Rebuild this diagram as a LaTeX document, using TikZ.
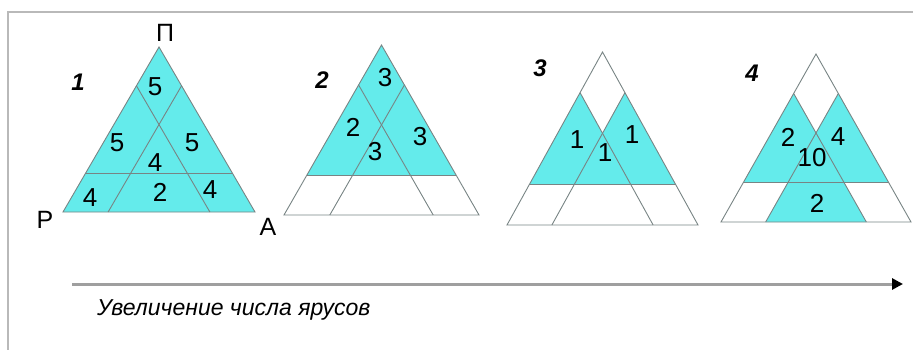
\documentclass[tikz,border=0pt]{standalone}
\usepackage{fontspec}
\setmainfont{Liberation Sans}
\usetikzlibrary{calc,arrows.meta}
\definecolor{goluboy}{RGB}{100,235,235}
\definecolor{seryy}{RGB}{120,132,132}
\tikzset{
  zalivka/.style={fill=goluboy},
  liniya/.style={draw=seryy, line width=0.9pt},
  chislo/.style={font=\fontsize{26}{26}\selectfont, inner sep=0pt},
  nomer/.style={font=\fontsize{24}{24}\selectfont\bfseries\itshape, inner sep=0pt},
  vershina/.style={font=\fontsize{25}{25}\selectfont, inner sep=0pt},
}
% vershiny i tochki deleniya (#1 shirina, #2 vysota)
\newcommand{\tochki}[2]{%
  \coordinate (L) at (0,0);
  \coordinate (R) at (#1,0);
  \coordinate (T) at (#1/2,-#2);
  \coordinate (Pl) at ($(L)!0.235!(T)$);
  \coordinate (Pr) at ($(R)!0.235!(T)$);
  \coordinate (B1) at ($(L)!0.235!(R)$);
  \coordinate (B2) at ($(R)!0.235!(L)$);
  \coordinate (Q1) at ($(T)!0.235!(R)$);
  \coordinate (Q2) at ($(T)!0.235!(L)$);
  \coordinate (X1) at ($(B1)!0.3072!(Q1)$);
  \coordinate (X2) at ($(B2)!0.3072!(Q2)$);
}
\newcommand{\linii}{%
  \draw[liniya] (L) -- (R) -- (T) -- cycle;
  \draw[liniya] (Pl) -- (Pr);
  \draw[liniya] (B1) -- (Q1);
  \draw[liniya] (B2) -- (Q2);
}
\begin{document}
\begin{tikzpicture}[x=1pt, y=-1pt]
  \useasboundingbox (0,0) rectangle (913,350);
  % ramka
  \draw[gray!55, line width=2pt] (8,350) -- (8,12) -- (913,12);
  % 1
  \begin{scope}[shift={(63,212)}]
    \tochki{192}{165}
    \fill[zalivka] (L) -- (R) -- (T) -- cycle;
    \linii
  \end{scope}
  \node[nomer] (n1) at (78,82) {1};
  \node[vershina] (vP) at (165,33) {П};
  \node[vershina] (vR) at (45,220) {Р};
  \node[vershina] (vA) at (268,227) {А};
  \node[chislo] (a1) at (155,87) {5};
  \node[chislo] (a2) at (117,143) {5};
  \node[chislo] (a3) at (192,143) {5};
  \node[chislo] (a4) at (155,163) {4};
  \node[chislo] (a5) at (90,198) {4};
  \node[chislo] (a6) at (160,192) {2};
  \node[chislo] (a7) at (210,190) {4};
  % 2
  \begin{scope}[shift={(284,215)}]
    \tochki{195}{170}
    \fill[zalivka] (Pl) -- (Pr) -- (T) -- cycle;
    \linii
  \end{scope}
  \node[nomer] (n2) at (322,80) {2};
  \node[chislo] (b1) at (385,78) {3};
  \node[chislo] (b2) at (353,127) {2};
  \node[chislo] (b3) at (420,137) {3};
  \node[chislo] (b4) at (375,152) {3};
  % 3
  \begin{scope}[shift={(507,225)}]
    \tochki{191}{173}
    \fill[zalivka] (Q2) -- (Pl) -- (X2) -- cycle;
    \fill[zalivka] (Q1) -- (Pr) -- (X1) -- cycle;
    \linii
  \end{scope}
  \node[nomer] (n3) at (540,68) {3};
  \node[chislo] (c1) at (577,140) {1};
  \node[chislo] (c2) at (632,135) {1};
  \node[chislo] (c3) at (605,153) {1};
  % 4
  \begin{scope}[shift={(721,222)}]
    \tochki{190}{168}
    \fill[zalivka] (Q2) -- (Pl) -- (X2) -- cycle;
    \fill[zalivka] (Q1) -- (Pr) -- (X1) -- cycle;
    \fill[zalivka] (X1) -- (X2) -- (B2) -- (B1) -- cycle;
    \linii
  \end{scope}
  \node[nomer] (n4) at (752,73) {4};
  \node[chislo] (d1) at (788,137) {2};
  \node[chislo] (d2) at (838,137) {4};
  \node[chislo] (d3) at (812,158) {10};
  \node[chislo] (d4) at (817,203) {2};
  % strelka
  \coordinate (s0) at (72,284);
  \coordinate (s1) at (903,284);
  \draw[gray!75, line width=3pt, -{Triangle[color=black, length=11pt, width=11pt]}] (s0) -- (s1);
  \node[anchor=west, font=\fontsize{23}{23}\selectfont\itshape, inner sep=0pt] (podpis) at (97,310) {Увеличение числа ярусов};
\end{tikzpicture}
\end{document}
